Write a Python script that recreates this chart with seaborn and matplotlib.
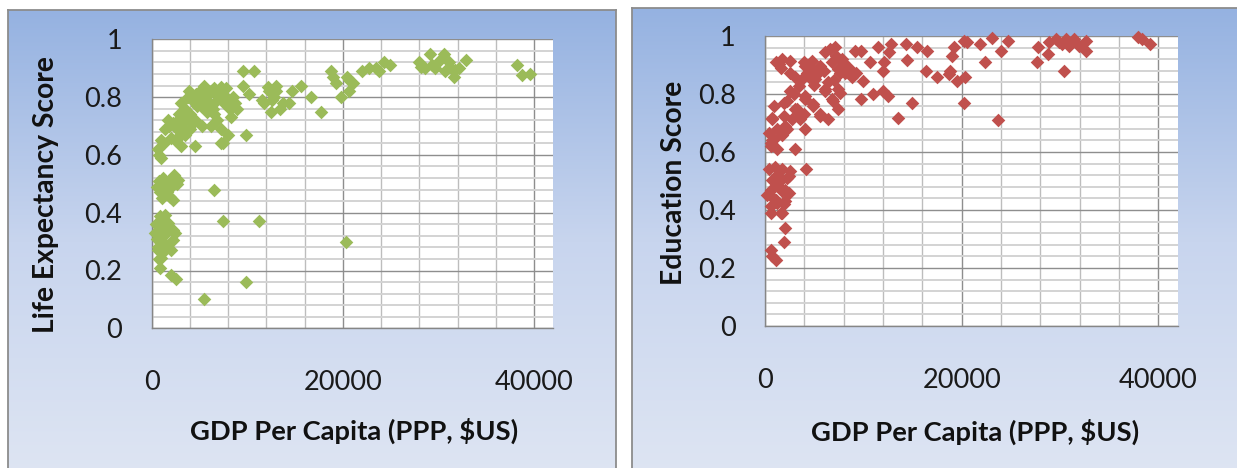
import numpy as np
import pandas as pd
import matplotlib
matplotlib.use("Agg")
import matplotlib.pyplot as plt
import seaborn as sns
from matplotlib.ticker import MultipleLocator, FuncFormatter
from matplotlib.colors import LinearSegmentedColormap

# ---------------------------------------------------------------------------
# Data: GDP per capita (PPP, $US) against HDI component scores
# ---------------------------------------------------------------------------
life_gdp = [
    830, 1350, 660, 1700, 2220, 310, 1180, 2220, 660, 2050, 1010, 830, 2050, 2570,
    9870, 5520, 7430, 11180, 20350,
    500, 1000, 1500, 900, 1400, 600, 1800, 1200, 700, 2400, 1100, 800,
    1880, 1010, 2400, 830, 1880, 1350, 2740, 6560,
    600, 1200, 2000, 1600, 2600, 1100, 2200, 800, 2300, 1500,
    1010, 660, 1010, 2400, 3090, 1350, 2740, 1700, 4480, 7430, 7950, 9870, 7260,
    1300, 2000, 800, 2800, 3500, 1800, 2200, 3300,
    5520, 7260, 3750, 3090, 5180, 7600, 8300, 6560, 4480, 6220,
    3500, 4000, 4200, 4600, 5000, 5000, 5500, 6000, 6000, 6400, 6800, 7000, 7000,
    7500, 7800, 8000, 8200, 8500, 8700, 5800, 6500, 4300, 3700, 2900, 3300, 5300,
    6800, 7200, 4700, 6200, 2700, 3900, 5700, 8900, 4000,
    9520, 10730, 9520, 10210, 12120, 12820, 11780, 12470, 12300, 12990, 13680,
    14380, 14720, 15600, 16640, 17680, 13000, 13400, 11500, 12600,
    18720, 19240, 20420, 20630, 19770, 20630, 22020, 22710, 23410, 24280, 24970,
    19000, 21000, 23800,
    27930, 29140, 29660, 30530, 31050, 31570, 32090, 32850, 28600, 30690, 31750,
    29300, 30200, 28200, 31300, 38170, 38690, 39560,
]
life_score = [
    0.387, 0.393, 0.353, 0.364, 0.341, 0.33, 0.318, 0.307, 0.272, 0.272, 0.244, 0.21, 0.186, 0.169,
    0.16, 0.10, 0.37, 0.37, 0.30,
    0.36, 0.34, 0.33, 0.30, 0.29, 0.31, 0.35, 0.37, 0.28, 0.33, 0.26, 0.24,
    0.514, 0.50, 0.51, 0.47, 0.456, 0.486, 0.514, 0.48,
    0.49, 0.52, 0.49, 0.47, 0.50, 0.45, 0.445, 0.51, 0.53, 0.50,
    0.59, 0.62, 0.65, 0.65, 0.63, 0.69, 0.686, 0.72, 0.63, 0.64, 0.67, 0.67, 0.64,
    0.64, 0.66, 0.60, 0.66, 0.67, 0.70, 0.71, 0.69,
    0.84, 0.835, 0.80, 0.78, 0.77, 0.78, 0.73, 0.74, 0.72, 0.70,
    0.76, 0.74, 0.79, 0.81, 0.82, 0.79, 0.80, 0.81, 0.78, 0.76, 0.79, 0.82, 0.80,
    0.81, 0.83, 0.79, 0.76, 0.80, 0.78, 0.75, 0.83, 0.71, 0.73, 0.74, 0.71, 0.70,
    0.72, 0.69, 0.77, 0.82, 0.72, 0.82, 0.78, 0.76, 0.69,
    0.89, 0.89, 0.84, 0.81, 0.835, 0.80, 0.78, 0.75, 0.82, 0.82, 0.78,
    0.78, 0.82, 0.84, 0.80, 0.75, 0.84, 0.76, 0.79, 0.79,
    0.89, 0.85, 0.87, 0.86, 0.80, 0.82, 0.89, 0.90, 0.90, 0.92, 0.91,
    0.87, 0.85, 0.89,
    0.92, 0.95, 0.90, 0.95, 0.92, 0.87, 0.90, 0.93, 0.90, 0.89, 0.895,
    0.91, 0.93, 0.905, 0.90, 0.91, 0.876, 0.88,
]

edu_gdp = [
    570, 740, 1080, 1910, 2080, 570, 1580,
    400, 1740, 2410, 740, 1410, 2080, 230, 1080, 1910, 570, 2580, 4160, 905, 2240,
    1240, 2080, 1740, 1740, 1200, 600, 2400, 1000, 1500, 800,
    3090, 570, 1240, 905, 570, 400, 1740, 1240, 2240, 4090, 2080, 700,
    740, 740, 2750, 905, 1910, 3420, 3090, 3920, 4930, 5600, 6440, 1910, 3590,
    2240, 3250, 6940, 7440, 6770, 4090, 2920, 4930, 5600,
    2580, 3420, 4090, 4090, 2580, 1080, 1740, 2580, 1580, 1410, 4760, 5600, 6770,
    7440, 8120, 6100, 7110, 7780, 5100, 6440, 7440, 6100, 3750, 4260, 3920, 4760,
    6610, 7270, 7950, 7620, 7620, 6100, 5300, 5000, 4500, 3000, 6000, 7000, 8500, 8800,
    9290, 9960, 9790, 9120, 9790, 10630, 11470, 12800, 12650, 12140, 11970, 10970,
    11970, 12470, 13550, 14320, 14420, 15420, 16500, 14990, 16330,
    17500, 18680, 19520, 20350, 18850, 19010, 19180, 20190, 20520, 20190, 21860,
    23040, 22360, 24040, 24710, 23710,
    27730, 27630, 28740, 28910, 29580, 30250, 30580, 31420, 31920, 32600, 32600,
    30410, 29910, 30920, 37960, 38300, 39130,
]
edu_score = [
    0.263, 0.24, 0.228, 0.288, 0.338, 0.39, 0.39,
    0.54, 0.54, 0.517, 0.505, 0.48, 0.47, 0.453, 0.436, 0.419, 0.413, 0.534, 0.54, 0.505, 0.511,
    0.425, 0.43, 0.465, 0.39, 0.52, 0.47, 0.46, 0.55, 0.50, 0.44,
    0.61, 0.632, 0.609, 0.644, 0.62, 0.667, 0.66, 0.678, 0.678, 0.678, 0.69, 0.64,
    0.713, 0.718, 0.713, 0.76, 0.77, 0.736, 0.747, 0.73, 0.76, 0.724, 0.713, 0.724, 0.713,
    0.776, 0.747, 0.776, 0.747, 0.782, 0.782, 0.80, 0.765, 0.73,
    0.81, 0.828, 0.793, 0.897, 0.874, 0.909, 0.92, 0.915, 0.89, 0.903, 0.886, 0.897, 0.909,
    0.886, 0.874, 0.944, 0.961, 0.92, 0.851, 0.84, 0.817, 0.817, 0.851, 0.874, 0.909, 0.915,
    0.955, 0.932, 0.909, 0.874, 0.805, 0.81, 0.87, 0.83, 0.86, 0.86, 0.88, 0.85, 0.89, 0.86,
    0.874, 0.845, 0.782, 0.949, 0.949, 0.909, 0.961, 0.972, 0.944, 0.909, 0.88, 0.80,
    0.81, 0.793, 0.718, 0.972, 0.918, 0.961, 0.949, 0.77, 0.88,
    0.857, 0.869, 0.845, 0.857, 0.88, 0.932, 0.961, 0.984, 0.978, 0.77, 0.972,
    0.992, 0.909, 0.949, 0.984, 0.709,
    0.961, 0.909, 0.938, 0.978, 0.99, 0.972, 0.99, 0.99, 0.967, 0.984, 0.949,
    0.88, 0.98, 0.967, 0.996, 0.99, 0.972,
]

x_label = "GDP Per Capita (PPP, $US)"
panel_titles = ["Life Expectancy Score", "Education Score"]
panel_colors = ["#9bbb59", "#c0504d"]

life_df = pd.DataFrame({"gdp": life_gdp, "score": life_score})
edu_df = pd.DataFrame({"gdp": edu_gdp, "score": edu_score})

# ---------------------------------------------------------------------------
# Figure
# ---------------------------------------------------------------------------
W, H, DPI = 1237, 468, 100
sns.set_theme(style="white")
plt.rcParams["font.family"] = ["Lato", "DejaVu Sans"]

fig = plt.figure(figsize=(W / DPI, H / DPI), dpi=DPI)
fig.patch.set_facecolor("white")


def px_rect(x0, y0, x1, y1):
    return [x0 / W, 1 - y1 / H, (x1 - x0) / W, (y1 - y0) / H]


grad_cmap = LinearSegmentedColormap.from_list("panel_bg", ["#dee5f3", "#c8d5ee", "#95b2e1"])


def panel_background(x0, y0, x1, y1):
    bg = fig.add_axes(px_rect(x0, y0, x1, y1), zorder=0)
    grad = np.linspace(0, 1, 256).reshape(-1, 1)
    bg.imshow(grad, aspect="auto", cmap=grad_cmap, origin="lower",
              extent=[0, 1, 0, 1], interpolation="bilinear")
    bg.set_xticks([])
    bg.set_yticks([])
    for sp in bg.spines.values():
        sp.set_color("#8c8c8c")
        sp.set_linewidth(1.3)
    return bg


def score_panel(rect, df, color, ylabel, ylab_xy, xlab_xy):
    ax = fig.add_axes(rect, zorder=2)
    ax.set_facecolor("white")
    sns.scatterplot(data=df, x="gdp", y="score", ax=ax, marker="D", s=48,
                    color=color, linewidth=0, legend=False, clip_on=False, zorder=3)
    ax.set_xlim(0, 42000)
    ax.set_ylim(0, 1)
    ax.xaxis.set_major_locator(MultipleLocator(20000))
    ax.xaxis.set_minor_locator(MultipleLocator(4000))
    ax.yaxis.set_major_locator(MultipleLocator(0.2))
    ax.yaxis.set_minor_locator(MultipleLocator(0.04))
    ax.yaxis.set_major_formatter(FuncFormatter(lambda v, p: f"{v:g}"))
    ax.xaxis.set_major_formatter(FuncFormatter(lambda v, p: f"{v:.0f}"))
    ax.set_axisbelow(True)
    ax.xaxis.grid(True, which="major", color="#8e8e8e", linewidth=1.0)
    ax.xaxis.grid(True, which="minor", color="#bdbdbd", linewidth=1.0)
    ax.yaxis.grid(True, which="major", color="#8e8e8e", linewidth=1.0)
    ax.yaxis.grid(True, which="minor", color="#d3d3d3", linewidth=1.4)
    for side in ("top", "right"):
        ax.spines[side].set_visible(False)
    for side in ("left", "bottom"):
        ax.spines[side].set_color("#868686")
        ax.spines[side].set_linewidth(1.0)
    ax.tick_params(axis="y", which="major", direction="out", length=7.2, width=1.0,
                   color="#868686", pad=14, labelsize=19.5, labelcolor="#1a1a1a")
    ax.tick_params(axis="y", which="minor", length=0)
    ax.tick_params(axis="x", which="both", length=0, pad=30, labelsize=19.5,
                   labelcolor="#1a1a1a")
    ax.set_xlabel(x_label, fontsize=19.7, fontweight="bold", color="#111111", va="center")
    ax.set_ylabel(ylabel, fontsize=20.3, fontweight="bold", color="#111111", va="center")
    ax.xaxis.set_label_coords(*xlab_xy)
    ax.yaxis.set_label_coords(*ylab_xy)
    return ax


panel_background(8, 10, 616, 475)
panel_background(632, 8, 1245, 475)

score_panel(px_rect(151.7, 39.3, 553.3, 328.3), life_df, panel_colors[0],
            panel_titles[0], (-0.263, 0.463), (0.504, -0.355))
score_panel(px_rect(765, 36, 1178, 326), edu_df, panel_colors[1],
            panel_titles[1], (-0.221, 0.495), (0.508, -0.364))

fig.savefig("out.png", dpi=DPI)
